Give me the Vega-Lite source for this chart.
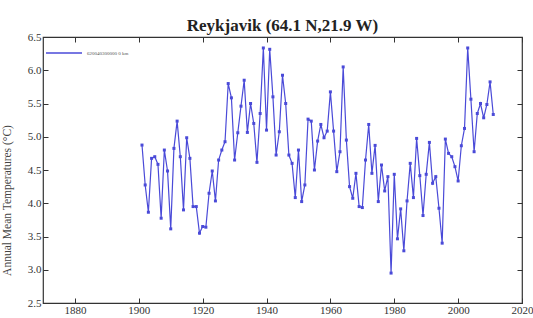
{
  "$schema": "https://vega.github.io/schema/vega-lite/v6.json",
  "width": 479,
  "height": 266,
  "autosize": {"type": "none"},
  "padding": {"left": 43, "top": 37, "right": 11, "bottom": 15},
  "background": "white",
  "title": {"text": "Reykjavik (64.1 N,21.9 W)", "font": "Liberation Serif", "fontSize": 17, "fontWeight": "bold", "color": "#222", "offset": 1, "dy": 5, "anchor": "middle"},
  "config": {
    "view": {"stroke": "#333", "strokeWidth": 1.2},
    "axis": {"labelFont": "Liberation Serif", "titleFont": "Liberation Serif", "labelColor": "#333", "titleColor": "#444", "grid": false, "domain": false, "tickColor": "#333", "tickWidth": 1, "tickSize": -5, "labelFontSize": 11}
  },
  "data": {"values": [
    {"year": 1901, "temp": 4.875, "s": "620040300000 0 km"},
    {"year": 1902, "temp": 4.275, "s": "620040300000 0 km"},
    {"year": 1903, "temp": 3.865, "s": "620040300000 0 km"},
    {"year": 1904, "temp": 4.675, "s": "620040300000 0 km"},
    {"year": 1905, "temp": 4.70, "s": "620040300000 0 km"},
    {"year": 1906, "temp": 4.585, "s": "620040300000 0 km"},
    {"year": 1907, "temp": 3.775, "s": "620040300000 0 km"},
    {"year": 1908, "temp": 4.80, "s": "620040300000 0 km"},
    {"year": 1909, "temp": 4.485, "s": "620040300000 0 km"},
    {"year": 1910, "temp": 3.615, "s": "620040300000 0 km"},
    {"year": 1911, "temp": 4.825, "s": "620040300000 0 km"},
    {"year": 1912, "temp": 5.235, "s": "620040300000 0 km"},
    {"year": 1913, "temp": 4.70, "s": "620040300000 0 km"},
    {"year": 1914, "temp": 3.90, "s": "620040300000 0 km"},
    {"year": 1915, "temp": 4.985, "s": "620040300000 0 km"},
    {"year": 1916, "temp": 4.675, "s": "620040300000 0 km"},
    {"year": 1917, "temp": 3.95, "s": "620040300000 0 km"},
    {"year": 1918, "temp": 3.95, "s": "620040300000 0 km"},
    {"year": 1919, "temp": 3.55, "s": "620040300000 0 km"},
    {"year": 1920, "temp": 3.65, "s": "620040300000 0 km"},
    {"year": 1921, "temp": 3.64, "s": "620040300000 0 km"},
    {"year": 1922, "temp": 4.15, "s": "620040300000 0 km"},
    {"year": 1923, "temp": 4.485, "s": "620040300000 0 km"},
    {"year": 1924, "temp": 4.035, "s": "620040300000 0 km"},
    {"year": 1925, "temp": 4.65, "s": "620040300000 0 km"},
    {"year": 1926, "temp": 4.80, "s": "620040300000 0 km"},
    {"year": 1927, "temp": 4.925, "s": "620040300000 0 km"},
    {"year": 1928, "temp": 5.80, "s": "620040300000 0 km"},
    {"year": 1929, "temp": 5.585, "s": "620040300000 0 km"},
    {"year": 1930, "temp": 4.65, "s": "620040300000 0 km"},
    {"year": 1931, "temp": 5.06, "s": "620040300000 0 km"},
    {"year": 1932, "temp": 5.46, "s": "620040300000 0 km"},
    {"year": 1933, "temp": 5.85, "s": "620040300000 0 km"},
    {"year": 1934, "temp": 5.065, "s": "620040300000 0 km"},
    {"year": 1935, "temp": 5.50, "s": "620040300000 0 km"},
    {"year": 1936, "temp": 5.20, "s": "620040300000 0 km"},
    {"year": 1937, "temp": 4.615, "s": "620040300000 0 km"},
    {"year": 1938, "temp": 5.35, "s": "620040300000 0 km"},
    {"year": 1939, "temp": 6.335, "s": "620040300000 0 km"},
    {"year": 1940, "temp": 5.10, "s": "620040300000 0 km"},
    {"year": 1941, "temp": 6.315, "s": "620040300000 0 km"},
    {"year": 1942, "temp": 5.60, "s": "620040300000 0 km"},
    {"year": 1943, "temp": 4.725, "s": "620040300000 0 km"},
    {"year": 1944, "temp": 5.075, "s": "620040300000 0 km"},
    {"year": 1945, "temp": 5.925, "s": "620040300000 0 km"},
    {"year": 1946, "temp": 5.50, "s": "620040300000 0 km"},
    {"year": 1947, "temp": 4.725, "s": "620040300000 0 km"},
    {"year": 1948, "temp": 4.60, "s": "620040300000 0 km"},
    {"year": 1949, "temp": 4.085, "s": "620040300000 0 km"},
    {"year": 1950, "temp": 4.80, "s": "620040300000 0 km"},
    {"year": 1951, "temp": 4.025, "s": "620040300000 0 km"},
    {"year": 1952, "temp": 4.275, "s": "620040300000 0 km"},
    {"year": 1953, "temp": 5.265, "s": "620040300000 0 km"},
    {"year": 1954, "temp": 5.235, "s": "620040300000 0 km"},
    {"year": 1955, "temp": 4.50, "s": "620040300000 0 km"},
    {"year": 1956, "temp": 4.935, "s": "620040300000 0 km"},
    {"year": 1957, "temp": 5.185, "s": "620040300000 0 km"},
    {"year": 1958, "temp": 4.985, "s": "620040300000 0 km"},
    {"year": 1959, "temp": 5.085, "s": "620040300000 0 km"},
    {"year": 1960, "temp": 5.675, "s": "620040300000 0 km"},
    {"year": 1961, "temp": 5.085, "s": "620040300000 0 km"},
    {"year": 1962, "temp": 4.475, "s": "620040300000 0 km"},
    {"year": 1963, "temp": 4.775, "s": "620040300000 0 km"},
    {"year": 1964, "temp": 6.05, "s": "620040300000 0 km"},
    {"year": 1965, "temp": 4.95, "s": "620040300000 0 km"},
    {"year": 1966, "temp": 4.25, "s": "620040300000 0 km"},
    {"year": 1967, "temp": 4.075, "s": "620040300000 0 km"},
    {"year": 1968, "temp": 4.45, "s": "620040300000 0 km"},
    {"year": 1969, "temp": 3.95, "s": "620040300000 0 km"},
    {"year": 1970, "temp": 3.935, "s": "620040300000 0 km"},
    {"year": 1971, "temp": 4.65, "s": "620040300000 0 km"},
    {"year": 1972, "temp": 5.185, "s": "620040300000 0 km"},
    {"year": 1973, "temp": 4.45, "s": "620040300000 0 km"},
    {"year": 1974, "temp": 4.87, "s": "620040300000 0 km"},
    {"year": 1975, "temp": 4.025, "s": "620040300000 0 km"},
    {"year": 1976, "temp": 4.575, "s": "620040300000 0 km"},
    {"year": 1977, "temp": 4.185, "s": "620040300000 0 km"},
    {"year": 1978, "temp": 4.40, "s": "620040300000 0 km"},
    {"year": 1979, "temp": 2.95, "s": "620040300000 0 km"},
    {"year": 1980, "temp": 4.435, "s": "620040300000 0 km"},
    {"year": 1981, "temp": 3.465, "s": "620040300000 0 km"},
    {"year": 1982, "temp": 3.915, "s": "620040300000 0 km"},
    {"year": 1983, "temp": 3.285, "s": "620040300000 0 km"},
    {"year": 1984, "temp": 4.035, "s": "620040300000 0 km"},
    {"year": 1985, "temp": 4.60, "s": "620040300000 0 km"},
    {"year": 1986, "temp": 4.085, "s": "620040300000 0 km"},
    {"year": 1987, "temp": 4.975, "s": "620040300000 0 km"},
    {"year": 1988, "temp": 4.415, "s": "620040300000 0 km"},
    {"year": 1989, "temp": 3.815, "s": "620040300000 0 km"},
    {"year": 1990, "temp": 4.435, "s": "620040300000 0 km"},
    {"year": 1991, "temp": 4.915, "s": "620040300000 0 km"},
    {"year": 1992, "temp": 4.30, "s": "620040300000 0 km"},
    {"year": 1993, "temp": 4.40, "s": "620040300000 0 km"},
    {"year": 1994, "temp": 3.925, "s": "620040300000 0 km"},
    {"year": 1995, "temp": 3.40, "s": "620040300000 0 km"},
    {"year": 1996, "temp": 4.965, "s": "620040300000 0 km"},
    {"year": 1997, "temp": 4.75, "s": "620040300000 0 km"},
    {"year": 1998, "temp": 4.70, "s": "620040300000 0 km"},
    {"year": 1999, "temp": 4.55, "s": "620040300000 0 km"},
    {"year": 2000, "temp": 4.335, "s": "620040300000 0 km"},
    {"year": 2001, "temp": 4.865, "s": "620040300000 0 km"},
    {"year": 2002, "temp": 5.125, "s": "620040300000 0 km"},
    {"year": 2003, "temp": 6.335, "s": "620040300000 0 km"},
    {"year": 2004, "temp": 5.565, "s": "620040300000 0 km"},
    {"year": 2005, "temp": 4.775, "s": "620040300000 0 km"},
    {"year": 2006, "temp": 5.35, "s": "620040300000 0 km"},
    {"year": 2007, "temp": 5.50, "s": "620040300000 0 km"},
    {"year": 2008, "temp": 5.285, "s": "620040300000 0 km"},
    {"year": 2009, "temp": 5.485, "s": "620040300000 0 km"},
    {"year": 2010, "temp": 5.825, "s": "620040300000 0 km"},
    {"year": 2011, "temp": 5.335, "s": "620040300000 0 km"}
  ]},
  "layer": [
    {
      "mark": {"type": "line", "strokeWidth": 1.2, "point": {"shape": "square", "size": 9, "filled": true, "color": "#2a2a85"}},
      "encoding": {
        "x": {"field": "year", "type": "quantitative", "scale": {"domain": [1870, 2020], "nice": false, "zero": false},
              "axis": {"orient": "bottom", "title": null, "values": [1880, 1900, 1920, 1940, 1960, 1980, 2000, 2020], "format": "d", "labelPadding": 6, "labelFlush": false}},
        "y": {"field": "temp", "type": "quantitative", "scale": {"domain": [2.5, 6.5], "nice": false, "zero": false},
              "axis": {"orient": "left", "title": "Annual Mean Temperatures (°C)", "titleFontSize": 11.5, "titleFontWeight": "normal", "titleX": -31, "titleY": 163, "titleAngle": -90, "titleAlign": "center", "titleBaseline": "bottom", "values": [2.5, 3, 3.5, 4, 4.5, 5, 5.5, 6, 6.5], "format": ".1f", "labelPadding": 7}},
        "color": {"field": "s", "type": "nominal", "scale": {"range": ["#4a4ad8"]},
                  "legend": {"title": null, "orient": "none", "legendX": 2, "legendY": -3, "symbolType": "stroke", "symbolSize": 1300, "symbolStrokeWidth": 1.3, "labelFontSize": 5, "labelFont": "Liberation Serif", "labelColor": "#555", "padding": 0}}
      }
    },
    {
      "mark": {"type": "point", "opacity": 0},
      "encoding": {
        "x": {"field": "year", "type": "quantitative", "axis": {"orient": "top", "title": null, "labels": false, "values": [1880, 1900, 1920, 1940, 1960, 1980, 2000, 2020]}},
        "y": {"field": "temp", "type": "quantitative", "axis": {"orient": "right", "title": null, "labels": false, "values": [2.5, 3, 3.5, 4, 4.5, 5, 5.5, 6, 6.5]}}
      }
    }
  ],
  "resolve": {"axis": {"x": "independent", "y": "independent"}}
}
